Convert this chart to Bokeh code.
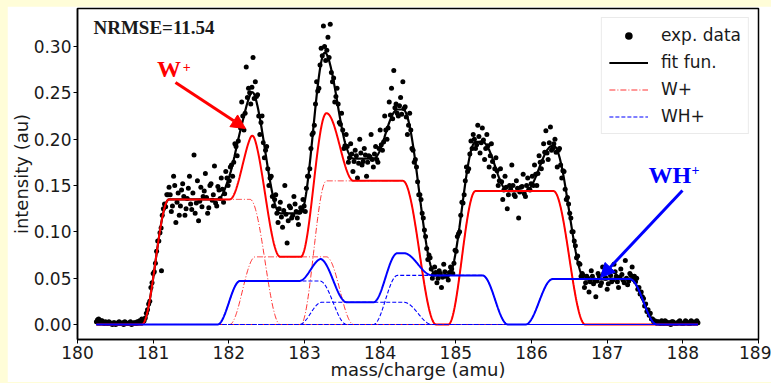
import numpy as np
from bokeh.plotting import figure
from bokeh.models import (Range1d, FixedTicker, Label, Arrow, NormalHead, Legend,
                          LegendItem, NumeralTickFormatter)
from bokeh.layouts import column
from bokeh.embed import file_html
from bokeh.resources import INLINE

exp_x = [180.25, 180.28, 180.31, 180.34, 180.37, 180.40, 180.43, 180.46, 180.49, 180.52, 180.55,
         180.58, 180.61, 180.64, 180.67, 180.70, 180.73, 180.76, 180.79, 180.82, 180.85,
         180.88, 180.91, 180.94, 180.97, 181.00, 181.03, 181.06, 181.09, 181.12, 181.15, 181.18, 181.21, 181.11,
         181.24, 181.27, 181.30, 181.33, 181.36, 181.39, 181.42, 181.45, 181.48, 181.51, 181.54, 181.57, 181.60,
         181.63, 181.66, 181.69, 181.72, 181.75, 181.78, 181.81, 181.84, 181.87, 181.90, 181.93, 181.96, 181.99,
         182.02, 182.05, 182.08, 182.11, 182.14, 182.17, 182.20, 182.23, 182.26, 182.29, 182.32, 182.35, 182.38,
         182.41, 182.44, 182.47, 182.50,
         182.53, 182.56, 182.59, 182.62, 182.65, 182.68, 182.71, 182.74, 182.77, 182.80, 182.83, 182.86, 182.89,
         182.92, 182.95,
         182.98, 183.01, 183.04, 183.07, 183.10, 183.13, 183.16, 183.19, 183.22, 183.25, 183.28, 183.31,
         183.34, 183.37, 183.40, 183.43, 183.46, 183.49, 183.52, 183.55, 183.58, 183.61, 183.64, 183.67, 183.70,
         183.73, 183.76,
         183.79, 183.82, 183.85, 183.88, 183.91, 183.94, 183.97, 184.00, 184.03, 184.06, 184.09, 184.12, 184.15,
         184.18, 184.21, 184.24, 184.27, 184.30, 184.33, 184.36, 184.39, 184.42, 184.45, 184.48, 184.51, 184.54,
         184.57, 184.60, 184.63, 184.66, 184.69, 184.72, 184.75, 184.78, 184.81, 184.84, 184.87, 184.90, 184.93,
         184.96, 184.99,
         185.02, 185.05, 185.08, 185.11, 185.14, 185.17, 185.20, 185.23, 185.26, 185.29, 185.32, 185.35, 185.38,
         185.41, 185.44, 185.47, 185.50,
         185.53, 185.56, 185.59, 185.62, 185.65, 185.68, 185.71, 185.74, 185.77, 185.80, 185.83, 185.86, 185.89,
         185.92, 185.95, 185.98,
         186.01, 186.04, 186.07, 186.10, 186.13, 186.16, 186.19, 186.22, 186.25, 186.28, 186.31, 186.34, 186.37,
         186.40, 186.43, 186.46, 186.49,
         186.52, 186.55, 186.58, 186.61, 186.64, 186.67, 186.70, 186.73, 186.76, 186.79, 186.82, 186.85,
         186.88, 186.91, 186.94, 186.97, 187.00, 187.03, 187.06, 187.09, 187.12, 187.15, 187.18, 187.21, 187.24,
         187.27, 187.30, 187.33,
         187.36, 187.39, 187.42, 187.45, 187.48, 187.51, 187.54, 187.57, 187.60, 187.63, 187.66,
         187.69, 187.72, 187.75, 187.78, 187.81, 187.84, 187.87, 187.90, 187.93, 187.96, 187.99, 188.02, 188.05,
         188.08, 188.11, 188.14, 188.17, 188.20]
exp_y = [0.003, 0.006, 0.004, 0.002, 0.003, 0.001, 0.002, 0.000, 0.002, 0.001, 0.003,
         0.001, 0.000, 0.002, 0.001, 0.003, 0.001, 0.002, 0.003, 0.004, 0.006,
         0.004, 0.012, 0.022, 0.040, 0.055, 0.066, 0.090, 0.099, 0.118, 0.130, 0.140, 0.148, 0.058,
         0.122, 0.160, 0.110, 0.142, 0.128, 0.152, 0.118, 0.136, 0.160, 0.124, 0.183, 0.131, 0.112,
         0.148, 0.138, 0.163, 0.120, 0.150, 0.134, 0.171, 0.128, 0.145, 0.158, 0.132, 0.165, 0.150,
         0.170, 0.160, 0.195, 0.182, 0.218, 0.240, 0.210, 0.278, 0.255, 0.238, 0.288, 0.262, 0.248,
         0.205, 0.225, 0.180, 0.192,
         0.150, 0.160, 0.128, 0.140, 0.110, 0.132, 0.105, 0.150, 0.088, 0.128, 0.115, 0.138, 0.122,
         0.108, 0.126,
         0.135, 0.122, 0.160, 0.168, 0.205, 0.215, 0.262, 0.255, 0.298, 0.322, 0.285, 0.310,
         0.324, 0.262, 0.240, 0.255, 0.218, 0.228, 0.190, 0.205, 0.175, 0.195, 0.165, 0.188, 0.158,
         0.200, 0.172,
         0.190, 0.160, 0.182, 0.205, 0.170, 0.192, 0.175, 0.210, 0.188, 0.225, 0.200, 0.240, 0.255,
         0.274, 0.238, 0.225, 0.245, 0.262, 0.235, 0.205, 0.228, 0.190, 0.175, 0.170, 0.140, 0.135,
         0.115, 0.095, 0.070, 0.072, 0.050, 0.062, 0.045, 0.058, 0.040, 0.065, 0.052, 0.048, 0.062,
         0.055, 0.080,
         0.095, 0.100, 0.132, 0.140, 0.170, 0.168, 0.198, 0.205, 0.190, 0.215, 0.185, 0.212, 0.178,
         0.205, 0.170, 0.195, 0.160,
         0.180, 0.150, 0.168, 0.135, 0.160, 0.125, 0.150, 0.172, 0.140, 0.155, 0.115, 0.148, 0.162,
         0.138, 0.158, 0.145,
         0.160, 0.172, 0.150, 0.182, 0.168, 0.195, 0.209, 0.178, 0.213, 0.190, 0.200, 0.170, 0.190,
         0.158, 0.165, 0.135, 0.130,
         0.115, 0.100, 0.085, 0.074, 0.065, 0.055, 0.040, 0.052, 0.035, 0.058, 0.044, 0.030,
         0.055, 0.042, 0.062, 0.050, 0.038, 0.058, 0.046, 0.065, 0.052, 0.040, 0.060, 0.048, 0.069,
         0.043, 0.055, 0.062,
         0.052, 0.050, 0.040, 0.035, 0.028, 0.022, 0.016, 0.012, 0.006, 0.004, 0.003,
         0.002, 0.004, 0.001, 0.003, 0.002, 0.000, 0.003, 0.001, 0.002, 0.004, 0.001, 0.002, 0.003,
         0.001, 0.004, 0.002, 0.003, 0.002]

# second, interleaved half of the sampled spectrum
exp_x_b = [180.265, 180.295, 180.325, 180.355, 180.385, 180.415, 180.445, 180.475, 180.505, 180.535,
           180.565, 180.595, 180.625, 180.655, 180.685, 180.715, 180.745, 180.775, 180.805, 180.835,
           180.865, 180.895, 180.925, 180.955, 180.985, 181.015, 181.045, 181.075, 181.105, 181.135,
           181.165, 181.195,
           181.225, 181.255, 181.285, 181.315, 181.345, 181.375, 181.405, 181.435, 181.465, 181.495,
           181.525, 181.555, 181.585, 181.615, 181.645, 181.675, 181.705, 181.735, 181.765, 181.795,
           181.825, 181.855, 181.885, 181.915, 181.945, 181.975,
           182.005, 182.035, 182.065, 182.095, 182.125, 182.155, 182.185, 182.215, 182.245, 182.275,
           182.305, 182.335, 182.365, 182.395, 182.425, 182.455, 182.485,
           182.515, 182.545, 182.575, 182.605, 182.635, 182.665, 182.695, 182.725, 182.755, 182.785,
           182.815, 182.845, 182.875, 182.905, 182.935,
           182.965, 182.995, 183.025, 183.055, 183.085, 183.115, 183.145, 183.175, 183.205, 183.235,
           183.265, 183.295,
           183.325, 183.355, 183.385, 183.415, 183.445, 183.475, 183.505, 183.535, 183.565, 183.595,
           183.625, 183.655, 183.685, 183.715, 183.745,
           183.775, 183.805, 183.835, 183.865, 183.895, 183.925, 183.955, 183.985, 184.015, 184.045,
           184.075, 184.105, 184.135, 184.165, 184.195, 184.225, 184.255, 184.285, 184.315, 184.345,
           184.375, 184.405, 184.435, 184.465, 184.495, 184.525,
           184.555, 184.585, 184.615, 184.645, 184.675, 184.705, 184.735, 184.765, 184.795, 184.825,
           184.855, 184.885, 184.915, 184.945, 184.975,
           185.005, 185.035, 185.065, 185.095, 185.125, 185.155, 185.185, 185.215, 185.245, 185.275,
           185.305, 185.335, 185.365, 185.395, 185.425, 185.455, 185.485,
           185.515, 185.545, 185.575, 185.605, 185.635, 185.665, 185.695, 185.725, 185.755, 185.785,
           185.815, 185.845, 185.875, 185.905, 185.935, 185.965,
           185.995, 186.025, 186.055, 186.085, 186.115, 186.145, 186.175, 186.205, 186.235, 186.265,
           186.295, 186.325, 186.355, 186.385, 186.415, 186.445, 186.475,
           186.505, 186.535, 186.565, 186.595, 186.625, 186.655, 186.685, 186.715, 186.745, 186.775,
           186.805, 186.835,
           186.865, 186.895, 186.925, 186.955, 186.985, 187.015, 187.045, 187.075, 187.105, 187.135,
           187.165, 187.195, 187.225, 187.255, 187.285, 187.315,
           187.345, 187.375, 187.405, 187.435, 187.465, 187.495, 187.525, 187.555, 187.585, 187.615,
           187.645,
           187.675, 187.705, 187.735, 187.765, 187.795, 187.825, 187.855, 187.885, 187.915, 187.945,
           187.975, 188.005, 188.035, 188.065, 188.095, 188.125, 188.155, 188.185]
exp_y_b = [0.005, 0.002, 0.004, 0.001, 0.002, 0.003, 0.001, 0.002, 0.000, 0.002,
           0.001, 0.002, 0.003, 0.001, 0.002, 0.000, 0.002, 0.001, 0.002, 0.003,
           0.003, 0.007, 0.016, 0.025, 0.045, 0.057, 0.079, 0.090, 0.104, 0.125,
           0.127, 0.140,
           0.140, 0.128, 0.150, 0.132, 0.118, 0.145, 0.138, 0.125, 0.147, 0.130,
           0.142, 0.120, 0.155, 0.133, 0.127, 0.144, 0.137, 0.126, 0.152, 0.140,
           0.131, 0.149, 0.136, 0.146, 0.141, 0.158,
           0.155, 0.172, 0.175, 0.192, 0.198, 0.212, 0.225, 0.228, 0.245, 0.250,
           0.256, 0.244, 0.246, 0.225, 0.218, 0.196, 0.188,
           0.168, 0.158, 0.138, 0.135, 0.120, 0.125, 0.116, 0.123, 0.119, 0.112,
           0.126, 0.118, 0.130, 0.115, 0.121,
           0.124, 0.128, 0.147, 0.160, 0.190, 0.207, 0.238, 0.252, 0.280, 0.290,
           0.300, 0.296,
           0.288, 0.272, 0.266, 0.246, 0.238, 0.216, 0.210, 0.193, 0.192, 0.180,
           0.184, 0.176, 0.182, 0.174, 0.185,
           0.176, 0.183, 0.175, 0.181, 0.178, 0.184, 0.178, 0.190, 0.194, 0.197,
           0.210, 0.212, 0.226, 0.222, 0.234, 0.228, 0.236, 0.227, 0.233, 0.224,
           0.215, 0.210, 0.188, 0.178, 0.154, 0.140,
           0.120, 0.102, 0.082, 0.075, 0.060, 0.054, 0.056, 0.050, 0.055, 0.051,
           0.057, 0.052, 0.056, 0.060, 0.066,
           0.079, 0.098, 0.118, 0.131, 0.155, 0.165, 0.184, 0.190, 0.200, 0.194,
           0.203, 0.196, 0.199, 0.190, 0.193, 0.182, 0.176,
           0.168, 0.166, 0.155, 0.154, 0.145, 0.148, 0.140, 0.146, 0.150, 0.138,
           0.147, 0.143, 0.149, 0.141, 0.150, 0.146,
           0.152, 0.150, 0.162, 0.163, 0.175, 0.176, 0.186, 0.185, 0.196, 0.188,
           0.195, 0.186, 0.188, 0.172, 0.166, 0.146, 0.137,
           0.120, 0.100, 0.090, 0.072, 0.066, 0.052, 0.053, 0.045, 0.050, 0.046,
           0.052, 0.048,
           0.047, 0.052, 0.045, 0.055, 0.050, 0.044, 0.053, 0.048, 0.057, 0.046,
           0.051, 0.054, 0.045, 0.050, 0.047, 0.053,
           0.049, 0.046, 0.038, 0.033, 0.030, 0.020, 0.014, 0.010, 0.006, 0.003,
           0.002,
           0.003, 0.001, 0.002, 0.004, 0.001, 0.002, 0.003, 0.002, 0.001, 0.003,
           0.002, 0.001, 0.004, 0.002, 0.001, 0.003, 0.002, 0.004]

# ---------------- fitted components (flat-topped peaks) ----------------
# height, centre of rising edge, centre of falling edge, width of rising edge, width of falling edge
w_height = [0.135, 0.073, 0.155, 0.144]
w_rise = [181.03, 182.18, 183.12, 185.08]
w_fall = [182.48, 183.47, 184.52, 186.50]
w_rise_w = [0.36, 0.34, 0.34, 0.36]
w_fall_w = [0.40, 0.36, 0.44, 0.42]

wh_height = [0.047, 0.024, 0.053, 0.049]
wh_rise = [182.00, 183.08, 184.07, 186.10]
wh_fall = [183.38, 184.50, 185.52, 187.48]
wh_rise_w = [0.30, 0.30, 0.32, 0.36]
wh_fall_w = [0.36, 0.38, 0.34, 0.36]

mass_start, mass_end = 180.25, 188.20
x_ticks = [180, 181, 182, 183, 184, 185, 186, 187, 188, 189]
y_ticks = [0.00, 0.05, 0.10, 0.15, 0.20, 0.25, 0.30]


def smooth_step(t):
    t = np.clip(t, -0.5, 0.5)
    return 0.5 + 0.5 * np.sin(np.pi * t)


xs = np.linspace(mass_start, mass_end, 1600)


def component(h, r, f, wr, wf):
    return h * smooth_step((xs - r) / wr) * smooth_step((f - xs) / wf)


w_comps = [component(*a) for a in zip(w_height, w_rise, w_fall, w_rise_w, w_fall_w)]
wh_comps = [component(*a) for a in zip(wh_height, wh_rise, wh_fall, wh_rise_w, wh_fall_w)]
w_sum = np.sum(w_comps, axis=0)
wh_sum = np.sum(wh_comps, axis=0)
fit = w_sum + wh_sum

FONT = "DejaVu Sans"
TXT = "#1a1a1a"

p = figure(frame_width=681, frame_height=331, output_backend="svg", toolbar_location=None,
           x_range=Range1d(180, 189), y_range=Range1d(-0.0162, 0.341),
           min_border_left=70, min_border_right=13, min_border_top=2, min_border_bottom=41)
p.background_fill_color = "white"
p.border_fill_color = "white"
p.grid.visible = False
p.outline_line_color = "black"
p.outline_line_width = 1.5

p.xaxis.ticker = FixedTicker(ticks=x_ticks)
p.yaxis.ticker = FixedTicker(ticks=y_ticks)
p.yaxis.formatter = NumeralTickFormatter(format="0.00")
for ax in (p.xaxis, p.yaxis):
    ax.major_tick_out = 4
    ax.major_tick_in = 0
    ax.minor_tick_out = 0
    ax.minor_tick_in = 0
    ax.axis_line_width = 1.5
    ax.major_tick_line_width = 1
    ax.major_label_text_font = FONT
    ax.major_label_text_font_size = "17px"
    ax.major_label_text_color = TXT
    ax.major_label_standoff = 2
    ax.axis_label_text_font = FONT
    ax.axis_label_text_font_size = "18px"
    ax.axis_label_text_font_style = "normal"
    ax.axis_label_text_color = TXT
p.xaxis.axis_label = "mass/charge (amu)"
p.yaxis.axis_label = "intensity (au)"
p.xaxis.axis_label_standoff = -3
p.yaxis.axis_label_standoff = -1

# marks
all_x = exp_x + exp_x_b
all_y = exp_y + exp_y_b
r_dots = p.scatter(all_x, all_y, size=5, fill_color="black", line_color=None, marker="circle")
r_fit = p.line(xs, fit, line_color="black", line_width=2.2)
r_wc = [p.line(xs, c, line_color="red", line_alpha=0.8, line_width=1, line_dash="6 2 1 2")
        for c in w_comps]
p.line(xs, w_sum, line_color="#ff0000", line_width=2)
r_whc = [p.line(xs, c, line_color="#0000ff", line_width=1.1, line_dash="4 2") for c in wh_comps]
p.line(xs, wh_sum, line_color="#0000ff", line_width=2)

legend = Legend(items=[LegendItem(label="exp. data", renderers=[r_dots]),
                       LegendItem(label="fit fun.", renderers=[r_fit]),
                       LegendItem(label="W+", renderers=[r_wc[0]]),
                       LegendItem(label="WH+", renderers=[r_whc[0]])],
                location="top_right", margin=9, padding=7, spacing=7,
                glyph_width=39, glyph_height=19, label_height=19, label_standoff=13,
                label_text_font=FONT, label_text_font_size="17px", label_text_color=TXT,
                border_line_color="#d6d6d6", border_line_width=1,
                background_fill_color="white", background_fill_alpha=0.8)
p.add_layout(legend)

# annotations
p.add_layout(Label(x=180.211, y=0.3205, text="NRMSE=11.54", text_font="Liberation Serif",
                   text_font_style="bold", text_font_size="19px", text_color=TXT,
                   text_baseline="alphabetic"))
p.add_layout(Label(x=181.05, y=0.2752, text="W", text_font="Liberation Serif",
                   text_font_style="bold", text_font_size="24px", text_color="red",
                   text_baseline="alphabetic"))
p.add_layout(Label(x=181.39, y=0.2784, text="+", text_font="Liberation Serif",
                   text_font_style="bold", text_font_size="14px", text_color="red",
                   text_baseline="middle"))
p.add_layout(Label(x=187.546, y=0.1618, text="WH", text_font="Liberation Serif",
                   text_font_style="bold", text_font_size="24px", text_color="blue",
                   text_baseline="alphabetic"))
p.add_layout(Label(x=188.114, y=0.1662, text="+", text_font="Liberation Serif",
                   text_font_style="bold", text_font_size="14px", text_color="blue",
                   text_baseline="middle"))
p.add_layout(Arrow(end=NormalHead(size=14, fill_color="red", line_color="red"),
                   x_start=181.295, y_start=0.2611, x_end=182.220, y_end=0.2115,
                   line_color="red", line_width=3))
p.add_layout(Arrow(end=NormalHead(size=14, fill_color="blue", line_color="blue"),
                   x_start=187.995, y_start=0.1446, x_end=186.912, y_end=0.0507,
                   line_color="blue", line_width=3))

layout = column(p, styles={"background-color": "#fffdd8", "padding": "6px 0px 3px 7px"})

open("out.html", "w").write(file_html(layout, INLINE))
